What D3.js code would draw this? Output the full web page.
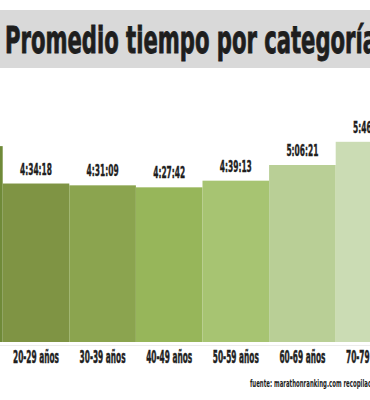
<!DOCTYPE html>
<html>
<head>
<meta charset="utf-8">
<script src="https://cdn.jsdelivr.net/npm/d3@7"></script>
<style>
  body { margin: 0; background: #fff; }
  svg { display: block; overflow: hidden; }
  text { font-family: 'Liberation Sans Narrow', 'DejaVu Sans Condensed', sans-serif; font-weight: bold; fill: #1e1e1e; }
</style>
</head>
<body>
<div class="chart"></div>
<script>
var categories = ['18-19 años', '20-29 años', '30-39 años', '40-49 años', '50-59 años', '60-69 años', '70-79 años']
var times = ['5:39:00', '4:34:18', '4:31:09', '4:27:42', '4:39:13', '5:06:21', '5:46:30']
var colors = ['#6f8a38', '#7f9444', '#8ba44f', '#97b65a', '#a7c472', '#b9cf96', '#cbdcb4']
var title = 'Promedio tiempo por categoría'
var source = 'fuente: marathonranking.com recopilación propia'

var toMin = str => {
  var [h, m, s] = str.split(':').map(Number)
  return h*60 + m + s/60
}

var data = categories.map((cat, i) => ({cat, time: times[i], min: toMin(times[i]), color: colors[i]}))

var width = 370, height = 400
var svg = d3.select('.chart').append('svg')
  .attr('width', width)
  .attr('height', height)

// title band
svg.append('rect')
  .attr('x', 0).attr('y', 10)
  .attr('width', width).attr('height', 58)
  .attr('fill', '#d9d9d9')

svg.append('text')
  .attr('x', 5).attr('y', 53)
  .attr('font-size', 38)
  .attr('textLength', 372)
  .attr('lengthAdjust', 'spacingAndGlyphs')
  .style('stroke', '#1e1e1e').style('stroke-width', 0.9)
  .text(title)

var step = 66.6
var x = d3.scaleBand()
  .domain(categories)
  .range([2.7 - step, 2.7 + step*(categories.length - 1)])
  .padding(0)

var y = d3.scaleLinear()
  .domain([0, 360])
  .range([342, 134])

svg.selectAll('rect.bar').data(data).join('rect')
  .attr('class', 'bar')
  .attr('x', d => x(d.cat))
  .attr('width', x.bandwidth())
  .attr('y', d => y(d.min))
  .attr('height', d => y(0) - y(d.min))
  .attr('fill', d => d.color)

// faint baseline
svg.append('line')
  .attr('x1', 0).attr('x2', width)
  .attr('y1', 345.5).attr('y2', 345.5)
  .attr('stroke', '#ececec')

svg.selectAll('text.val').data(data).join('text')
  .attr('class', 'val')
  .attr('x', d => x(d.cat) + x.bandwidth()/2)
  .attr('y', d => y(d.min) - 9)
  .attr('text-anchor', 'middle')
  .attr('font-size', 16)
  .attr('textLength', 32)
  .attr('lengthAdjust', 'spacingAndGlyphs')
  .style('stroke', '#1e1e1e').style('stroke-width', 0.4)
  .text(d => d.time)

var xAxis = d3.axisBottom(x).tickSize(0).tickPadding(0)
var xSel = svg.append('g').attr('transform', 'translate(0,363)').call(xAxis)
xSel.select('.domain').remove()
xSel.attr('font-family', null).attr('font-size', null)
xSel.selectAll('text')
  .attr('y', 0).attr('dy', 0)
  .attr('font-size', 18)
  .attr('textLength', 46)
  .attr('lengthAdjust', 'spacingAndGlyphs')
  .style('stroke', '#1e1e1e').style('stroke-width', 0.5)

svg.append('text')
  .attr('x', 250).attr('y', 387)
  .attr('font-size', 10)
  .attr('textLength', 152)
  .attr('lengthAdjust', 'spacingAndGlyphs')
  .text(source)
</script>
</body>
</html>
